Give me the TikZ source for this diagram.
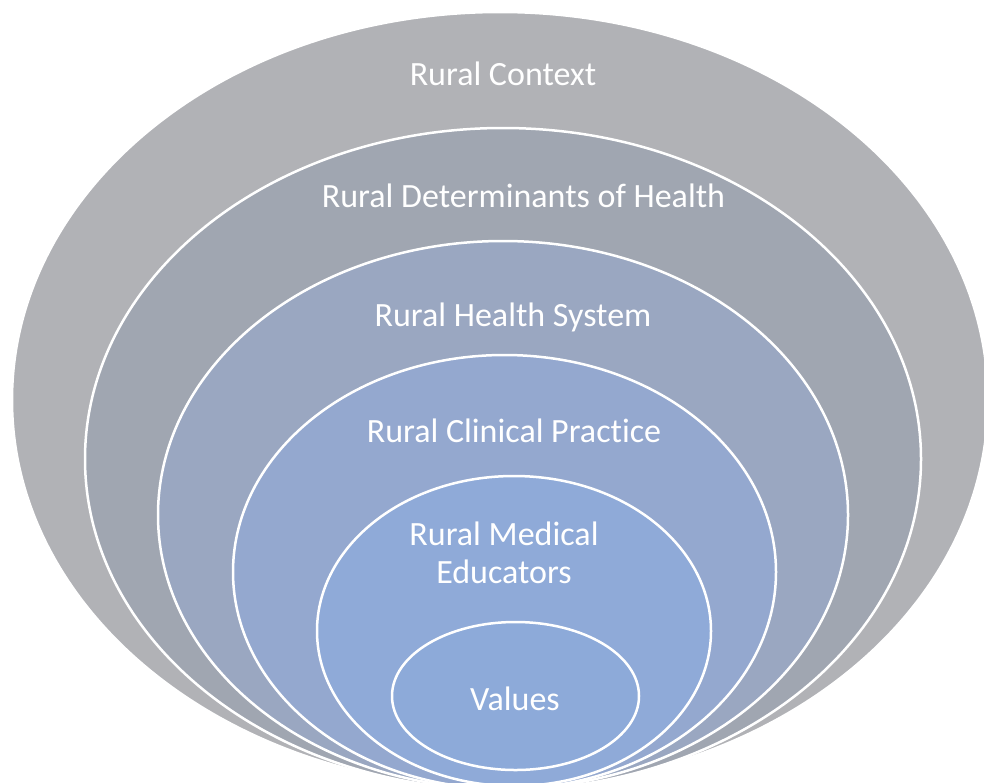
\documentclass[tikz,border=0pt]{standalone}
\usepackage{fontspec}
\setmainfont[Ligatures=NoCommon]{Carlito}
\usepackage{xcolor}
\usepackage{tikz}
\usetikzlibrary{shapes.geometric}

\definecolor{ctxgray}{RGB}{177,178,182}
\definecolor{detgray}{RGB}{160,166,177}
\definecolor{sysblue}{RGB}{154,167,193}
\definecolor{clinblue}{RGB}{148,168,207}
\definecolor{edublue}{RGB}{143,170,216}
\definecolor{valblue}{RGB}{141,170,217}

\begin{document}
\begin{tikzpicture}[x=1pt,y=-1pt,
  ring/.style={ellipse, draw=white, line width=2.5pt, inner sep=0pt},
  ringtext/.style={text=white, anchor=base, align=center,
    font=\fontsize{34}{38}\selectfont}]
\useasboundingbox (0,0) rectangle (984,782);
\clip (0,0) rectangle (984,782);
% rings, outside in
\node[ring, fill=ctxgray, minimum width=976pt, minimum height=776pt] (context) at (500,400) {};
\node[ring, fill=detgray, minimum width=836pt, minimum height=662pt] (determinants) at (503,459) {};
\node[ring, fill=sysblue, minimum width=690pt, minimum height=548pt] (system) at (503,515) {};
\node[ring, fill=clinblue, minimum width=543pt, minimum height=434pt] (clinical) at (504.5,572) {};
\node[ring, fill=edublue, minimum width=394pt, minimum height=310pt] (educators) at (514,631) {};
\node[ring, fill=valblue, minimum width=247pt, minimum height=148pt] (values) at (515.5,696) {};
% labels
\node[ringtext] (contextlbl) at (503,85) {Rural Context};
\node[ringtext] (determinantslbl) at (523.5,207) {Rural Determinants of Health};
\node[ringtext] (systemlbl) at (513,326) {Rural Health System};
\node[ringtext] (clinicallbl) at (514,442) {Rural Clinical Practice};
\node[ringtext] (educatorslbl) at (504,583) {Rural Medical\\Educators};
\node[ringtext] (valueslbl) at (515,710) {Values};
\end{tikzpicture}
\end{document}
